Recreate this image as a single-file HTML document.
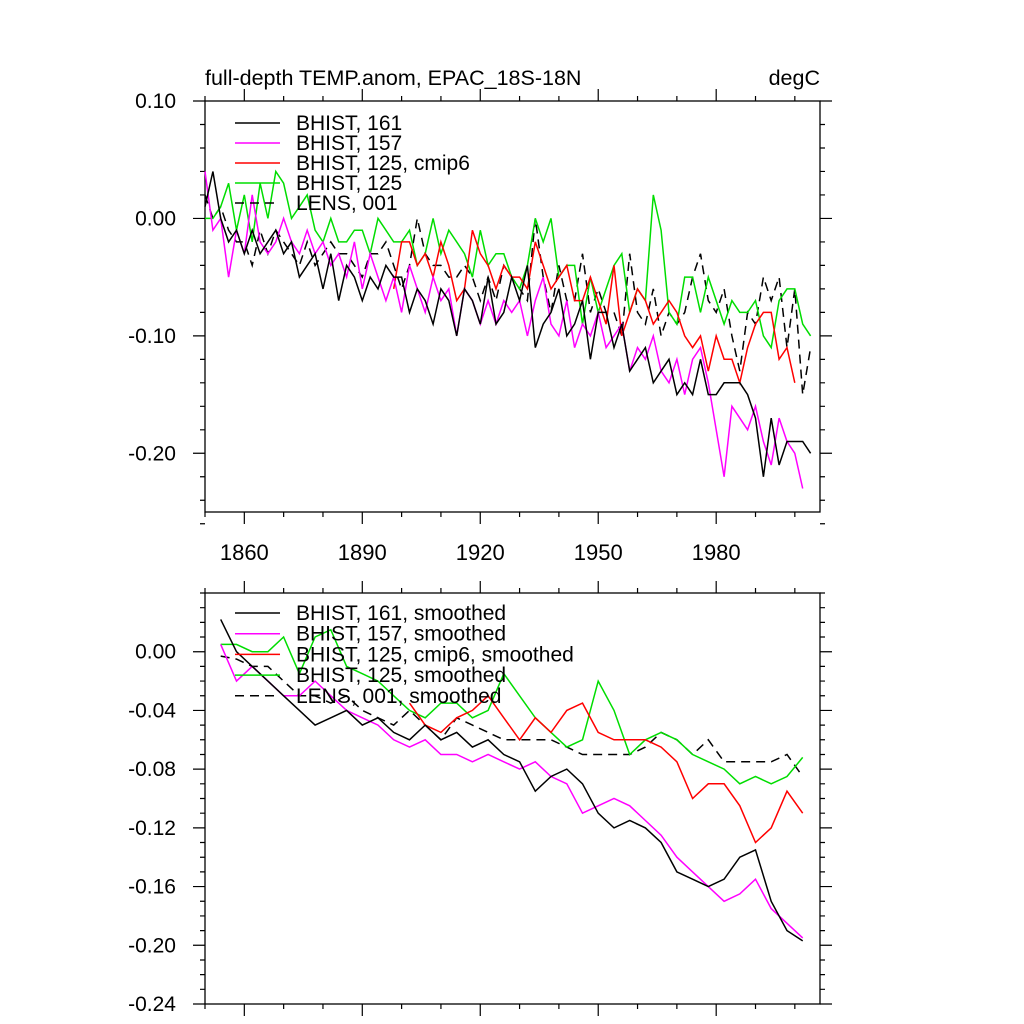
<!DOCTYPE html>
<html><head><meta charset="utf-8">
<style>body{margin:0;background:#fff}svg{display:block}text{font-family:"Liberation Sans",sans-serif}</style>
</head><body>
<svg id="c" width="1024" height="1024" xmlns="http://www.w3.org/2000/svg">
<text x="205" y="85" font-size="21.5">full-depth TEMP.anom, EPAC_18S-18N</text>
<text x="820" y="85" font-size="21.5" text-anchor="end">degC</text>
</svg>
<script>
const topBlack=[0.01,0.04,0.0,-0.02,-0.01,-0.03,-0.01,-0.03,-0.02,-0.01,-0.03,-0.02,-0.05,-0.04,-0.03,-0.06,-0.03,-0.07,-0.04,-0.05,-0.07,-0.05,-0.06,-0.04,-0.05,-0.05,-0.08,-0.06,-0.07,-0.09,-0.06,-0.07,-0.10,-0.06,-0.07,-0.09,-0.05,-0.09,-0.08,-0.05,-0.07,-0.04,-0.11,-0.09,-0.08,-0.06,-0.10,-0.09,-0.07,-0.12,-0.08,-0.08,-0.11,-0.09,-0.13,-0.12,-0.11,-0.14,-0.13,-0.12,-0.15,-0.14,-0.15,-0.12,-0.15,-0.15,-0.14,-0.14,-0.14,-0.15,-0.17,-0.22,-0.17,-0.21,-0.19,-0.19,-0.19,-0.20];
const topMagenta=[0.04,-0.01,0.0,-0.05,-0.01,-0.03,0.02,-0.02,-0.03,-0.02,0.0,-0.02,-0.03,-0.01,-0.03,-0.02,-0.04,-0.03,-0.05,-0.02,-0.06,-0.03,-0.05,-0.07,-0.05,-0.08,-0.04,-0.06,-0.08,-0.05,-0.07,-0.06,-0.10,-0.06,-0.07,-0.09,-0.07,-0.09,-0.07,-0.08,-0.07,-0.10,-0.07,-0.05,-0.09,-0.10,-0.07,-0.11,-0.09,-0.10,-0.08,-0.11,-0.10,-0.09,-0.13,-0.11,-0.12,-0.10,-0.13,-0.14,-0.12,-0.15,-0.12,-0.11,-0.14,-0.18,-0.22,-0.16,-0.17,-0.18,-0.16,-0.19,-0.21,-0.17,-0.19,-0.20,-0.23];
const topRed=[-0.06,-0.02,-0.02,-0.04,-0.03,-0.05,-0.02,-0.04,-0.07,-0.06,-0.01,-0.03,-0.04,-0.06,-0.04,-0.05,-0.05,-0.06,-0.02,-0.04,-0.06,-0.05,-0.04,-0.07,-0.07,-0.05,-0.07,-0.09,-0.04,-0.10,-0.08,-0.06,-0.07,-0.09,-0.08,-0.07,-0.08,-0.10,-0.11,-0.10,-0.13,-0.10,-0.12,-0.12,-0.14,-0.11,-0.09,-0.08,-0.08,-0.12,-0.11,-0.14];
const topGreen=[0.0,0.0,0.01,0.03,-0.01,0.02,-0.02,0.03,0.0,0.04,0.03,0.0,0.01,0.02,-0.01,-0.02,0.0,-0.02,-0.02,-0.01,-0.01,-0.03,0.0,-0.01,-0.02,-0.02,-0.01,-0.04,-0.03,0.0,-0.03,-0.01,-0.02,-0.03,-0.05,-0.01,-0.04,-0.03,-0.03,-0.05,-0.06,-0.04,0.0,-0.02,0.0,-0.05,-0.04,-0.04,-0.09,-0.05,-0.08,-0.06,-0.04,-0.03,-0.08,-0.06,-0.07,0.02,-0.01,-0.08,-0.09,-0.05,-0.05,-0.08,-0.05,-0.07,-0.09,-0.07,-0.08,-0.08,-0.07,-0.10,-0.11,-0.07,-0.06,-0.06,-0.09,-0.10];
const topLens=[0.02,0.0,0.01,-0.01,-0.02,-0.02,-0.04,-0.01,-0.03,-0.01,-0.02,-0.03,-0.04,-0.02,-0.04,-0.03,-0.02,-0.03,-0.03,-0.04,-0.05,-0.03,-0.03,-0.02,-0.04,-0.06,-0.04,0.0,-0.03,-0.04,-0.04,-0.05,-0.05,-0.04,-0.05,-0.07,-0.05,-0.07,-0.04,-0.05,-0.06,-0.07,0.0,-0.05,-0.08,-0.04,-0.07,-0.07,-0.03,-0.08,-0.06,-0.08,-0.08,-0.10,-0.03,-0.08,-0.09,-0.06,-0.10,-0.08,-0.09,-0.08,-0.05,-0.03,-0.07,-0.08,-0.06,-0.10,-0.13,-0.08,-0.09,-0.05,-0.07,-0.05,-0.11,-0.06,-0.15,-0.11];
const smBlack=[0.022,0.0,-0.01,-0.02,-0.03,-0.04,-0.05,-0.045,-0.04,-0.05,-0.045,-0.055,-0.06,-0.05,-0.06,-0.055,-0.065,-0.06,-0.07,-0.075,-0.095,-0.085,-0.08,-0.09,-0.11,-0.12,-0.115,-0.12,-0.13,-0.15,-0.155,-0.16,-0.155,-0.14,-0.135,-0.17,-0.19,-0.197];
const smMagenta=[0.005,-0.02,-0.01,-0.02,-0.03,-0.03,-0.02,-0.03,-0.04,-0.045,-0.05,-0.06,-0.065,-0.06,-0.07,-0.07,-0.075,-0.07,-0.075,-0.08,-0.075,-0.085,-0.09,-0.11,-0.105,-0.1,-0.105,-0.115,-0.125,-0.14,-0.15,-0.16,-0.17,-0.165,-0.155,-0.175,-0.185,-0.195];
const smRed=[-0.035,-0.05,-0.055,-0.045,-0.04,-0.03,-0.045,-0.06,-0.045,-0.055,-0.04,-0.035,-0.055,-0.06,-0.06,-0.06,-0.065,-0.075,-0.1,-0.09,-0.09,-0.105,-0.13,-0.12,-0.095,-0.11];
const smGreen=[0.005,0.005,0.0,0.0,0.01,-0.015,0.01,0.015,-0.01,-0.015,-0.02,-0.03,-0.04,-0.045,-0.035,-0.035,-0.045,-0.04,-0.015,-0.03,-0.045,-0.055,-0.065,-0.06,-0.02,-0.04,-0.07,-0.06,-0.055,-0.06,-0.07,-0.075,-0.08,-0.09,-0.085,-0.09,-0.085,-0.072];
const smLens=[-0.003,-0.005,-0.01,-0.01,-0.02,-0.03,-0.03,-0.035,-0.03,-0.04,-0.045,-0.05,-0.04,-0.05,-0.06,-0.045,-0.05,-0.055,-0.06,-0.06,-0.06,-0.06,-0.065,-0.07,-0.07,-0.07,-0.07,-0.065,-0.055,-0.06,-0.07,-0.06,-0.075,-0.075,-0.075,-0.075,-0.07,-0.085];
const xTicks=[1860,1890,1920,1950,1980];
const topYTicks=[0.10,0.00,-0.10,-0.20];
const botYTicks=[0.00,-0.04,-0.08,-0.12,-0.16,-0.20,-0.24];

const svg=document.getElementById('c');
const NS='http://www.w3.org/2000/svg';
function mk(tag,attrs,parent){const e=document.createElementNS(NS,tag);for(const k in attrs)e.setAttribute(k,attrs[k]);(parent||svg).appendChild(e);return e;}
const X0=205,X1=820,XMIN=1850,XMAX=2006.4;
const xs=v=>X0+(v-XMIN)/(XMAX-XMIN)*(X1-X0);

function panel(name,top,bot,ymax,ymin,yt,minorStep,fmt,showX){
  const ys=v=>top+(ymax-v)/(ymax-ymin)*(bot-top);
  const g=mk('g',{});
  
  
  const fr=mk('rect',{x:X0,y:top,width:X1-X0,height:bot-top,fill:'none',stroke:'#000','stroke-width':1.3},g);
  
  
  let tk='';
  for(let yr=1850;yr<=2000;yr+=10){const x=xs(yr);const L=(yr-1860)%30===0?12:5;tk+=`M${x},${bot}v${L}M${x},${top}v${-L}`;}
  const n=Math.round((ymax-ymin)/minorStep);
  for(let i=0;i<=n;i++){const v=ymax-i*minorStep;const y=ys(v);const maj=yt.some(t=>Math.abs(t-v)<1e-6);const L=maj?12:5;tk+=`M${X0},${y}h${-L}M${X1},${y}h${L}`;}
  const tp=mk('path',{d:tk,stroke:'#000','stroke-width':1.2,fill:'none'},g);
  
  
  yt.forEach(v=>{const t=mk('text',{x:X0-29,y:ys(v)+7,'font-size':21,'text-anchor':'end'},g);t.textContent=fmt(v);
    
    });
  if(showX)xTicks.forEach(v=>{const t=mk('text',{x:xs(v),y:bot+48,'font-size':22,'text-anchor':'middle'},g);t.textContent=v;
    
    });
  return {g,ys};
}
function series(p,arr,start,step,color,dash,nm){
  const d=arr.map((v,i)=>(i?'L':'M')+xs(start+i*step).toFixed(1)+','+p.ys(v).toFixed(1)).join('');
  const e=mk('path',{d,fill:'none',stroke:color,'stroke-width':1.5,'stroke-dasharray':dash||'none'},p.g);
  
  
}
function legend(p,y0,dy,items){
  items.forEach((it,i)=>{const y=y0+i*dy;
    const l=mk('line',{x1:235,x2:280,y1:y,y2:y,stroke:it[1],'stroke-width':1.5,'stroke-dasharray':it[2]||'none'},p.g);
    
    
    const t=mk('text',{x:296,y:y+7,'font-size':21},p.g);t.textContent=it[0];
    
    });
}
const f2=v=>(v<0?'-':'')+Math.abs(v).toFixed(2);
const P1=panel('top-panel',101,512,0.10,-0.25,topYTicks,0.02,f2,true);
series(P1,topLens,1850,2,'#000','9,6','line-lens-001');
series(P1,topGreen,1850,2,'#00dd00','','line-bhist-125');
series(P1,topRed,1898,2,'#ff0000','','line-bhist-125-cmip6');
series(P1,topMagenta,1850,2,'#ff00ff','','line-bhist-157');
series(P1,topBlack,1850,2,'#000','','line-bhist-161');
legend(P1,123,20,[['BHIST, 161','#000'],['BHIST, 157','#ff00ff'],['BHIST, 125, cmip6','#ff0000'],['BHIST, 125','#00dd00'],['LENS, 001','#000','9,6']]);
const P2=panel('bottom-panel',593,1004,0.04,-0.24,botYTicks,0.01,f2,false);
series(P2,smLens,1854,4,'#000','9,6','line-lens-001-smoothed');
series(P2,smGreen,1854,4,'#00dd00','','line-bhist-125-smoothed');
series(P2,smRed,1902,4,'#ff0000','','line-bhist-125-cmip6-smoothed');
series(P2,smMagenta,1854,4,'#ff00ff','','line-bhist-157-smoothed');
series(P2,smBlack,1854,4,'#000','','line-bhist-161-smoothed');
legend(P2,613,20.7,[['BHIST, 161, smoothed','#000'],['BHIST, 157, smoothed','#ff00ff'],['BHIST, 125, cmip6, smoothed','#ff0000'],['BHIST, 125, smoothed','#00dd00'],['LENS, 001, smoothed','#000','9,6']]);
</script>
</body></html>
